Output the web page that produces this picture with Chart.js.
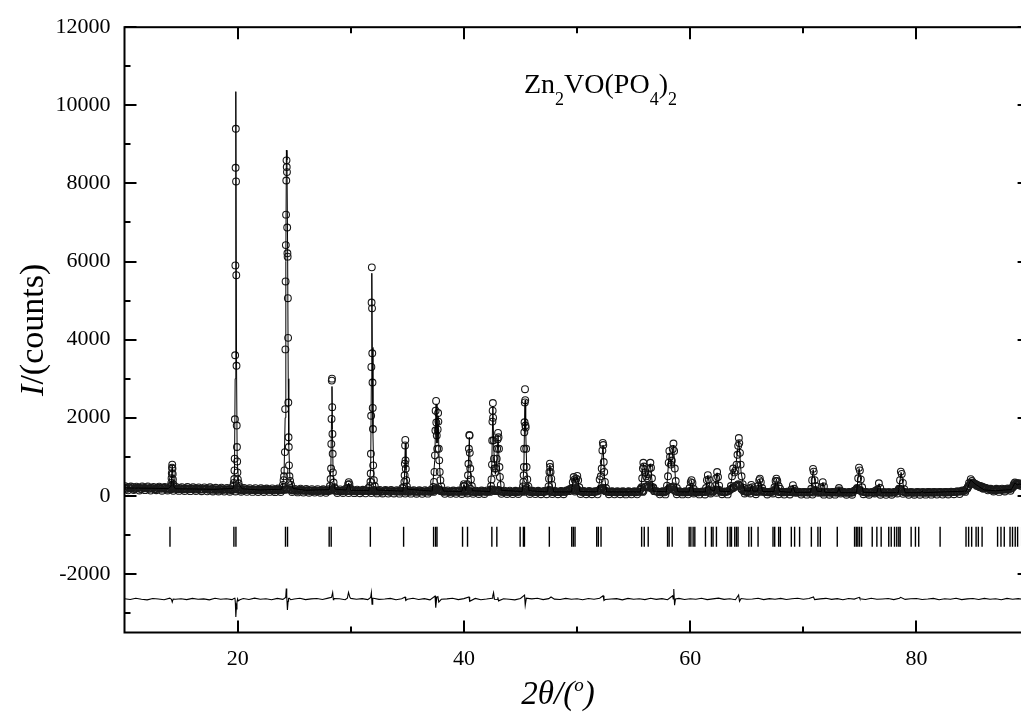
<!DOCTYPE html>
<html><head><meta charset="utf-8">
<script src="https://cdn.jsdelivr.net/npm/chart.js@4.4.1/dist/chart.umd.min.js"></script>
<style>
html,body{margin:0;padding:0;background:#fff;overflow:hidden;width:1021px;height:725px}
#wrap{position:relative;width:1041px;height:725px;overflow:hidden}
canvas{display:block}
</style></head><body>
<div id="wrap"><canvas id="c" width="1041" height="725"></canvas></div>
<script>
// ---------- tick labels ----------
const xTickValues = [20, 40, 60, 80];
const xMinorTicks = [30, 50, 70];
const yTickValues = [-2000, 0, 2000, 4000, 6000, 8000, 10000, 12000];
const yMinorTicks = [-3000, -1000, 1000, 3000, 5000, 7000, 9000, 11000];

const obsBaseA = [
205,178,196,221, 188,210,176,199, 214,185,193,170, 201,182,207,190,
176,195,184,168, 190,172,183,166, 178,160,185,171, 164,182,158,175,
169,152,174,160, 158,171,149,165, 160,152,170,148, 162,145,158,150,
141,160,147,155, 150,138,157,144, 152,160,170,148, 140,131,149,136,
128,145,133,122, 138,124,141,129, 119,135,150,127, 131,118,140,125,
122,137,115,128, 112,130,121,140, 126,111,123,108, 117,129,104,120,
108,122,130,111, 118,103,120,109, 101,117,106,122, 110,125,140,160,
118,104,113,99, 107,120,98,112, 118,104,120,100, 96,111,102,117,
105,120,150,140, 130,110,98,112, 101,94,110,99, 107,120,160,108,
96,110,92,104, 99,113,130,101, 93,108,97,111, 104,150,170,160,
180,121,98,107, 92,105,98,110, 150,210,120,101, 94,106,90,101,
97,88,103,93, 100,91,106,115, 220,260,250,200, 110,96,104,90,
150,230,240,110, 95,88,101,92, 98,110,100,90, 95,108,130,100,
110,160,140,101, 92,104,150,200, 250,300,190,120, 98,110,150,104,
112,140,108,96, 91,104,150,110, 100,88,97,104, 90,120,86,92,
84,95,88,99, 130,120,90,86, 82,93,80,90, 86,98,84,80,
88,79,130,200, 150,100,86,80, 90,82,110,88, 81,92,84,79,
88,110,180,120, 85,80,91,78, 82,90,86,79, 92,84,80,88,
83,95,86,91, 90,98,104,110, 118,130,190,300, 330,300,260,240,
210,185,170,150, 145,160,150,170, 160,175,210,300, 310,280,300,260,
250];
// grid B: 10.125 + 0.25 i
const obsBaseB = [
186,214,192,175, 203,181,215,190, 179,200,168,205, 192,211,174,186,
170,188,177,192, 165,187,170,179, 172,183,154,168, 176,159,170,151,
158,172,150,166, 162,150,168,180, 170,144,158,163, 151,166,142,157,
153,139,162,148, 145,159,140,152, 165,175,160,139, 146,129,142,133,
137,124,139,127, 126,140,122,134, 141,160,132,120, 124,137,121,133,
130,113,126,119, 125,138,116,127, 114,128,106,119, 125,109,121,113,
117,104,125,108, 112,125,106,117, 121,108,115,104, 118,150,170,130,
109,121,102,115, 100,114,125,106, 110,130,110,105, 113,99,115,104,
112,160,130,120, 118,104,115,95, 108,97,104,112, 114,150,130,99,
106,95,108,98, 105,140,110,95, 104,96,110,100, 130,175,150,140,
120,104,112,95, 101,94,108,130, 180,150,110,96, 103,93,99,106,
91,102,95,100, 94,110,180,130, 240,230,180,120, 102,93,100,120,
190,220,130,98, 100,92,97,115, 104,95,88,100, 102,95,150,110,
130,150,120,95, 100,120,180,220, 270,250,150,108, 104,130,120,98,
150,130,100,92, 98,130,140,96, 93,102,90,98, 96,110,90,85,
91,86,96,83, 110,100,84,92, 89,84,95,86, 92,110,90,85,
81,93,150,160, 120,95,84,88, 86,130,92,84, 88,80,89,85,
95,140,160,100, 82,90,84,87, 88,83,92,85, 86,90,84,93,
89,84,93,88, 94,102,108,112, 125,160,250,320, 310,280,250,230,
200,180,160,155, 150,165,158,162, 168,190,250,320, 300,290,280,270];
// grid C: 10.0625 + 0.25 i (the high and low edges of the noisy band)
const obsBaseC = [
245,140,238,150, 235,138,242,145, 240,135,230,142, 236,130,228,138,
225,128,230,126, 222,124,226,120, 218,122,215,118, 214,116,220,112,
205,110,210,108, 200,106,230,112, 210,104,200,102, 196,100,198,98,
192,96,188,100, 190,94,186,96, 220,160,300,98, 178,88,182,84,
175,80,170,82, 172,78,168,76, 168,150,200,74, 165,72,180,70,
160,68,158,66, 156,64,200,70, 152,62,150,60, 150,58,148,60,
146,56,200,58, 148,55,144,54, 142,52,146,55, 150,100,200,150,
140,52,138,50, 136,50,140,48, 138,60,180,50, 134,48,136,46,
140,100,160,120, 150,50,134,46, 132,44,130,46, 140,100,200,48,
128,44,130,42, 126,42,150,44, 124,40,126,42, 140,120,180,110,
150,44,124,40, 122,40,120,38, 180,160,122,40, 120,38,118,40,
118,36,120,38, 116,38,150,100, 230,210,200,120, 118,38,116,36,
160,200,160,40, 116,36,118,38, 130,60,114,36, 112,34,150,60,
120,80,150,40, 112,36,160,200, 260,280,170,60, 112,60,150,40,
180,100,110,34, 108,60,180,40, 106,32,108,34, 104,80,106,32,
102,30,104,32, 150,80,100,30, 98,28,100,30, 96,60,98,28,
96,28,140,150, 130,40,96,28, 94,60,96,28, 92,26,94,28,
100,60,170,50, 94,26,92,28, 96,28,94,30, 98,30,96,32,
100,32,102,34, 108,40,112,44, 140,100,240,300, 320,260,240,200,
200,140,180,110, 180,100,185,110, 190,130,240,280, 320,250,310,240];

// ---------- observed peak points [2theta, I] ----------
const obsPeaks = [
[14.10,260],[14.14,330],[14.16,450],[14.18,580],[14.20,720],[14.22,800],[14.24,700],[14.26,560],[14.28,420],[14.32,300],[14.36,240],
[19.62,260],[19.66,330],[19.70,430],[19.72,650],[19.74,950],[19.76,1960],[19.78,3600],[19.80,5900],[19.82,8400],[19.84,9400],[19.86,8050],[19.88,5650],[19.90,3330],[19.92,1800],[19.94,1250],[19.96,880],[19.98,600],[20.02,420],[20.08,320],[20.16,240],
[24.00,280],[24.06,400],[24.10,500],[24.14,650],[24.18,1120],[24.20,2220],[24.22,3750],[24.24,5490],[24.26,6420],[24.28,7200],[24.30,8075],[24.32,8590],[24.34,8420],[24.36,8290],[24.38,6870],[24.40,6210],[24.42,6125],[24.44,5060],[24.46,4045],[24.48,2390],[24.50,1500],[24.52,1250],[24.54,780],[24.58,500],[24.64,380],[24.72,280],
[28.16,250],[28.22,430],[28.26,700],[28.28,1330],[28.30,1970],[28.32,2950],[28.34,3000],[28.36,2270],[28.38,1585],[28.40,1076],[28.42,600],[28.48,340],[28.56,220],
[29.70,200],[29.76,290],[29.82,350],[29.88,300],[29.94,200],
[31.70,250],[31.74,360],[31.76,570],[31.78,1076],[31.80,2050],[31.82,3300],[31.84,4950],[31.86,5850],[31.88,4800],[31.90,3650],[31.92,2900],[31.94,2250],[31.96,1710],[31.98,780],[32.04,400],[32.12,250],
[34.70,230],[34.74,356],[34.76,527],[34.78,822],[34.80,1290],[34.82,1432],[34.84,908],[34.86,695],[34.90,400],[34.96,240],
[37.30,230],[37.36,356],[37.40,611],[37.44,1036],[37.48,1672],[37.50,2180],[37.54,2430],[37.56,1880],[37.60,1545],[37.64,1204],[37.68,1700],[37.72,2120],[37.74,1900],[37.78,1204],[37.82,908],[37.86,611],[37.92,400],[38.00,240],
[39.95,250],[40.00,300],[40.06,250],[40.30,300],[40.36,527],[40.40,820],[40.44,1204],[40.48,1560],[40.50,1545],[40.52,1100],[40.56,700],[40.62,420],[40.70,250],
[42.40,250],[42.44,420],[42.48,800],[42.50,1417],[42.52,1900],[42.54,2180],[42.56,2375],[42.58,2000],[42.62,1420],[42.66,950],[42.70,700],[42.76,600],[42.84,700],[42.90,950],[42.94,1204],[42.98,1450],[43.02,1611],[43.06,1500],[43.10,1204],[43.14,738],[43.18,483],[43.26,280],
[45.22,240],[45.26,356],[45.28,527],[45.30,738],[45.32,1204],[45.34,1628],[45.36,1883],[45.38,2392],[45.40,2730],[45.42,2450],[45.44,1800],[45.46,1750],[45.50,1204],[45.54,738],[45.60,420],[45.70,240],
[47.48,240],[47.52,440],[47.56,611],[47.60,822],[47.62,738],[47.66,611],[47.72,440],[47.80,280],
[49.55,200],[49.62,350],[49.70,480],[49.78,420],[49.86,380],[49.94,440],[50.02,510],[50.10,400],[50.20,220],
[52.00,420],[52.10,500],[52.18,700],[52.24,1163],[52.28,1357],[52.32,1300],[52.36,865],[52.40,611],[52.46,356],[52.56,200],
[55.70,220],[55.76,450],[55.82,700],[55.86,845],[55.92,750],[56.00,600],[56.10,500],[56.20,450],[56.30,550],[56.40,700],[56.48,845],[56.54,720],[56.62,450],[56.72,220],
[57.95,260],[58.04,500],[58.10,850],[58.16,1150],[58.22,1000],[58.30,800],[58.38,900],[58.46,1200],[58.52,1340],[58.58,1150],[58.64,700],[58.72,380],[58.82,200],
[59.95,200],[60.05,350],[60.12,400],[60.20,330],[60.30,180],
[61.40,200],[61.48,400],[61.56,530],[61.64,420],[61.76,250],[62.20,250],[62.30,450],[62.38,610],[62.46,480],[62.56,260],
[63.60,250],[63.70,500],[63.80,700],[63.90,600],[64.00,650],[64.10,800],[64.18,1050],[64.24,1280],[64.30,1480],[64.34,1350],[64.40,1100],[64.46,800],[64.54,500],[64.64,300],[64.76,200],
[65.30,200],[65.40,280],[65.50,220],[66.00,250],[66.10,400],[66.16,440],[66.24,350],[66.36,200],
[67.45,220],[67.55,380],[67.62,440],[67.70,380],[67.82,250],[67.95,180],
[68.95,160],[69.08,272],[69.20,180],
[70.70,180],[70.78,400],[70.86,690],[70.92,620],[71.00,400],[71.10,250],[71.60,220],[71.72,350],[71.82,240],
[73.05,140],[73.15,200],[73.25,140],
[74.75,180],[74.85,450],[74.92,720],[75.00,650],[75.08,420],[75.20,220],
[76.55,160],[76.68,320],[76.80,200],
[78.45,180],[78.55,400],[78.62,620],[78.70,560],[78.80,330],[78.92,170],
[84.50,200],[84.65,330],[84.80,425],[84.90,380],[85.05,330],[85.20,300],[85.40,250],[85.60,220],[85.90,180],
[88.45,200],[88.60,300],[88.70,340],[88.85,280],[89.00,300],[89.20,260]
];

// ---------- calculated profile [2theta, I] ----------
const calcProfile = [
[10,200],[12,195],[13.9,185],[14.12,250],[14.22,780],[14.32,260],[14.5,180],[16,175],[18,165],
[19.6,190],[19.72,600],[19.78,3000],[19.84,10350],[19.90,3500],[19.96,900],[20.1,300],[20.4,180],[22,150],
[23.9,170],[24.1,500],[24.2,2000],[24.26,6000],[24.31,8850],[24.36,8600],[24.42,6200],[24.47,3000],[24.52,1300],[24.62,450],[24.9,190],
[26,140],[28.1,160],[28.24,700],[28.3,2000],[28.34,2800],[28.38,1700],[28.44,500],[28.6,170],
[29.6,150],[29.82,330],[30.0,140],
[31.6,140],[31.76,700],[31.82,3000],[31.86,5700],[31.9,3800],[31.96,1600],[32.04,450],[32.3,150],
[34.6,120],[34.74,450],[34.82,1350],[34.88,650],[35.0,170],
[37.2,120],[37.42,900],[37.54,2350],[37.62,1350],[37.72,2050],[37.8,1000],[37.95,300],[38.2,120],
[39.8,110],[40.0,280],[40.15,140],[40.36,550],[40.48,1500],[40.56,650],[40.75,130],
[42.3,110],[42.46,700],[42.56,2300],[42.64,1200],[42.78,550],[42.92,950],[43.02,1550],[43.12,800],[43.3,140],
[45.15,110],[45.3,700],[45.38,2300],[45.42,2450],[45.46,1700],[45.56,600],[45.75,130],
[47.4,100],[47.6,790],[47.75,350],[47.95,100],
[49.5,100],[49.7,460],[49.86,360],[50.02,480],[50.25,110],
[51.8,100],[52.0,380],[52.3,1300],[52.42,500],[52.62,100],
[55.6,100],[55.86,820],[56.15,450],[56.47,820],[56.72,120],
[57.9,100],[58.15,1100],[58.32,750],[58.53,1300],[58.7,400],[58.92,100],
[59.9,100],[60.12,390],[60.3,100],
[61.35,100],[61.56,520],[61.8,160],[62.15,120],[62.38,590],[62.6,120],
[63.5,110],[63.8,680],[63.95,580],[64.3,1420],[64.5,600],[64.8,130],
[65.3,120],[65.4,270],[65.55,120],[65.95,120],[66.15,430],[66.4,110],
[67.4,110],[67.62,430],[67.9,110],[68.9,90],[69.08,260],[69.25,90],
[70.65,90],[70.87,670],[71.05,300],[71.2,120],[71.6,110],[71.73,340],[71.9,90],
[73.0,80],[73.15,190],[73.3,80],[74.7,80],[74.93,700],[75.1,350],[75.3,90],
[76.5,80],[76.7,310],[76.9,80],[78.4,80],[78.64,600],[78.85,250],[79.0,80],
[80.4,80],[80.5,130],[80.6,80],[84.4,120],[84.8,410],[85.1,320],[85.5,240],[86.0,150],
[87,130],[88.4,160],[88.7,330],[88.9,280],[89.1,300],[90,250]
];

// ---------- Bragg reflection positions ----------
const braggTheta = [
14.02,19.67,19.85,24.23,24.41,28.09,28.27,31.73,34.67,37.32,37.50,37.62,39.88,40.32,
42.47,42.91,44.97,45.26,45.35,47.55,49.53,49.67,49.82,51.74,51.88,52.12,
55.71,55.94,56.29,58.00,58.14,58.41,59.91,60.06,60.26,60.41,61.35,61.88,62.02,62.32,
63.30,63.53,63.65,63.94,64.09,64.23,65.18,65.41,66.00,67.32,67.47,67.82,67.97,
68.94,69.23,69.67,70.71,71.29,71.50,73.00,74.53,74.68,74.82,74.97,75.15,
76.09,76.50,76.88,77.55,77.77,78.06,78.26,78.44,78.56,79.53,79.91,80.20,82.09,
84.38,84.61,84.88,85.27,85.47,85.80,87.17,87.47,87.76,88.27,88.49,88.73,88.94,89.30,89.60
];

// ---------- difference curve: baseline grid 10 + 0.5 i, plus features ----------
const diffBase = [
-2635,-2655,-2622,-2648,-2665,-2630,-2642,-2660,-2620,-2650,
-2636,-2657,-2626,-2649,-2640,-2664,-2624,-2647,-2634,-2659,
-2640,-2628,-2653,-2621,-2648,-2635,-2661,-2626,-2651,-2632,
-2644,-2623,-2659,-2640,-2629,-2654,-2619,-2649,-2637,-2662,
-2627,-2647,-2633,-2657,-2622,-2652,-2641,-2626,-2660,-2636,
-2648,-2624,-2654,-2634,-2665,-2629,-2650,-2640,-2623,-2657,
-2632,-2652,-2627,-2660,-2643,-2622,-2655,-2637,-2648,-2664,
-2628,-2651,-2639,-2624,-2659,-2633,-2645,-2656,-2626,-2650,
-2635,-2660,-2629,-2648,-2622,-2655,-2641,-2632,-2663,-2626,
-2647,-2637,-2657,-2623,-2651,-2632,-2661,-2643,-2627,-2654,
-2634,-2649,-2625,-2658,-2640,-2621,-2652,-2635,-2660,-2629,
-2650,-2641,-2624,-2657,-2633,-2647,-2627,-2655,-2637,-2622,
-2649,-2630,-2658,-2640,-2625,-2652,-2634,-2661,-2628,-2645,
-2635,-2656,-2624,-2650,-2641,-2631,-2659,-2623,-2652,-2637,
-2629,-2655,-2643,-2626,-2660,-2634,-2648,-2623,-2657,-2640,
-2631,-2653,-2627,-2650,-2637,-2662,-2626,-2647,-2633,-2655,
-2640];
const diffFeatures = [
[14.15,-2650],[14.22,-2720],[14.30,-2645],
[19.70,-2625],[19.76,-2610],[19.80,-2750],[19.84,-3100],[19.88,-2900],[19.94,-2720],[20.05,-2690],[20.20,-2660],
[24.25,-2600],[24.30,-2371],[24.34,-2550],[24.40,-2920],[24.46,-2700],[24.55,-2620],[24.70,-2660],
[28.30,-2600],[28.40,-2480],[28.46,-2660],[28.55,-2630],
[29.70,-2620],[29.80,-2475],[29.92,-2600],
[31.76,-2600],[31.82,-2480],[31.88,-2778],[31.94,-2620],
[34.80,-2590],[34.86,-2680],
[37.45,-2565],[37.52,-2863],[37.60,-2600],[37.70,-2580],[37.78,-2720],
[40.45,-2590],[40.52,-2700],
[42.55,-2560],[42.62,-2480],[42.70,-2650],[43.00,-2600],[43.06,-2690],
[45.36,-2540],[45.42,-2800],[45.50,-2620],
[47.70,-2590],
[52.30,-2560],[52.38,-2680],
[58.45,-2560],[58.55,-2387],[58.62,-2800],[58.70,-2640],
[64.28,-2540],[64.36,-2700],
[70.90,-2590],[74.95,-2600],[78.60,-2600]
];

// ---------- build datasets ----------
const obsPts = [];
obsBaseA.forEach((v, i) => obsPts.push({x: 10 + i * 0.25, y: v}));
obsBaseB.forEach((v, i) => obsPts.push({x: 10.125 + i * 0.25, y: v}));
obsBaseC.forEach((v, i) => obsPts.push({x: 10.0625 + i * 0.25, y: v}));
obsPeaks.forEach(p => obsPts.push({x: p[0], y: p[1]}));
const calcPts = calcProfile.map(p => ({x: p[0], y: p[1]}));
const diffPts = diffBase.map((v, i) => ({x: 10 + i * 0.5, y: v}))
  .concat(diffFeatures.map(p => ({x: p[0], y: p[1]})))
  .sort((a, b) => a.x - b.x);
const BRAGG_LEVEL = -1050;
const braggPts = braggTheta.map(t => ({x: t, y: BRAGG_LEVEL}));

const SERIF = '"Liberation Serif", "Times New Roman", serif';

function runs(ctx, parts) {
  let w = 0;
  parts.forEach(p => { ctx.font = p.f; w += ctx.measureText(p.t).width; });
  return w;
}
function drawRuns(ctx, parts, x, y) {
  parts.forEach(p => { ctx.font = p.f; ctx.fillText(p.t, x, y + (p.dy || 0)); x += ctx.measureText(p.t).width; });
}

const framePlugin = {
  id: 'frame',
  afterDraw(chart) {
    const {ctx, chartArea: a, scales: {x, y}} = chart;
    ctx.save();
    ctx.strokeStyle = '#000';
    ctx.lineWidth = 2;
    ctx.lineCap = 'butt';
    ctx.strokeRect(a.left, a.top, a.right - a.left, a.bottom - a.top);
    const MAJ = 12, MIN = 6;
    ctx.beginPath();
    const xt = (v, L) => { const px = Math.round(x.getPixelForValue(v));
      ctx.moveTo(px, a.bottom); ctx.lineTo(px, a.bottom - L);
      ctx.moveTo(px, a.top); ctx.lineTo(px, a.top + L); };
    const yt = (v, L) => { const py = Math.round(y.getPixelForValue(v));
      ctx.moveTo(a.left, py); ctx.lineTo(a.left + L, py);
      ctx.moveTo(a.right, py); ctx.lineTo(a.right - L, py); };
    xTickValues.forEach(v => xt(v, MAJ));
    xMinorTicks.forEach(v => xt(v, MIN));
    yTickValues.forEach(v => yt(v, MAJ));
    yMinorTicks.forEach(v => yt(v, MIN));
    ctx.stroke();

    ctx.fillStyle = '#000';
    ctx.textBaseline = 'alphabetic';
    ctx.textAlign = 'left';
    drawRuns(ctx, [
      {t: 'Zn', f: '28px ' + SERIF},
      {t: '2', f: '18px ' + SERIF, dy: 12},
      {t: 'VO(PO', f: '28px ' + SERIF},
      {t: '4', f: '18px ' + SERIF, dy: 12},
      {t: ')', f: '28px ' + SERIF},
      {t: '2', f: '18px ' + SERIF, dy: 12}
    ], 524, 93);

    const yParts = [{t: 'I', f: 'italic 34px ' + SERIF}, {t: '/(counts)', f: '34px ' + SERIF}];
    const yw = runs(ctx, yParts);
    ctx.save();
    ctx.translate(43, (a.top + a.bottom) / 2);
    ctx.rotate(-Math.PI / 2);
    drawRuns(ctx, yParts, -yw / 2, 0);
    ctx.restore();

    const xParts = [
      {t: '2\u03B8/(', f: 'italic 33px ' + SERIF},
      {t: 'o', f: 'italic 19px ' + SERIF, dy: -13},
      {t: ')', f: 'italic 33px ' + SERIF}
    ];
    const xw = runs(ctx, xParts);
    drawRuns(ctx, xParts, 558 - xw / 2, 704);
    ctx.restore();
  }
};

const tickFont = {family: SERIF, size: 22};

new Chart(document.getElementById('c'), {
  type: 'scatter',
  data: {
    datasets: [
      {label: 'calc', data: calcPts, showLine: true, borderColor: '#000', borderWidth: 1,
       pointRadius: 0, tension: 0, order: 0},
      {label: 'obs', data: obsPts, showLine: false, pointRadius: 3.4, pointBorderWidth: 1.1,
       pointBorderColor: '#1a1a1a', pointBackgroundColor: 'rgba(0,0,0,0)', order: 1},
      {label: 'bragg', data: braggPts, showLine: false, pointStyle: 'line', rotation: 90,
       pointRadius: 10, pointBorderWidth: 1.4, pointBorderColor: '#000', order: 2},
      {label: 'diff', data: diffPts, showLine: true, borderColor: '#000', borderWidth: 1.1,
       pointRadius: 0, tension: 0, order: 3}
    ]
  },
  options: {
    responsive: false,
    devicePixelRatio: 1,
    animation: false,
    events: [],
    layout: {padding: {top: 22, right: 11, left: 0, bottom: 0}},
    plugins: {legend: {display: false}, tooltip: {enabled: false}},
    scales: {
      x: {
        type: 'linear', min: 10, max: 90,
        grid: {display: false, drawTicks: false},
        border: {display: false},
        ticks: {font: tickFont, color: '#000', padding: 14, maxRotation: 0,
                callback: v => String(v)},
        afterBuildTicks: s => { s.ticks = xTickValues.map(v => ({value: v})); },
        afterFit: s => { s.height = 92.5; }
      },
      y: {
        type: 'linear', min: -3500, max: 12000,
        grid: {display: false, drawTicks: false},
        border: {display: false},
        ticks: {font: tickFont, color: '#000', padding: 14, callback: v => String(v)},
        afterBuildTicks: s => { s.ticks = yTickValues.map(v => ({value: v})); },
        afterFit: s => { s.width = 124.5; }
      }
    }
  },
  plugins: [framePlugin]
});
</script>
</body></html>
